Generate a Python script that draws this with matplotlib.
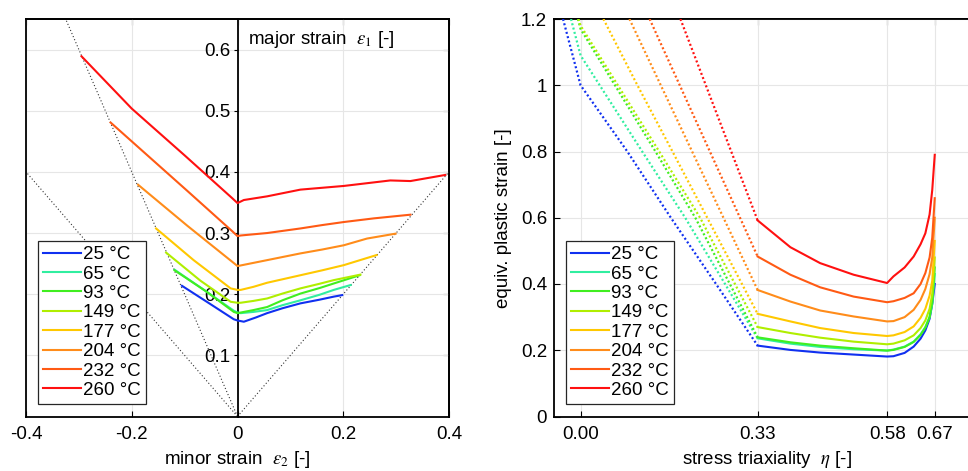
"""Forming limit curves and fracture strain vs. triaxiality for several temperatures."""

import numpy as np
import matplotlib
matplotlib.use("Agg")
import matplotlib.pyplot as plt

plt.rcParams["font.family"] = ["Liberation Sans", "DejaVu Sans"]
plt.rcParams["mathtext.fontset"] = "stix"
plt.rcParams["axes.unicode_minus"] = False

TEMPS = ["25 °C", "65 °C", "93 °C", "149 °C", "177 °C", "204 °C", "232 °C", "260 °C"]
COLORS = ["#1030f0", "#30eea0", "#40ee20", "#b0ee00", "#ffc800", "#ff8c1a", "#ff5a14", "#ff1010"]

# left panel: minor strain (eps2) / major strain (eps1) per temperature
FLC_E2 = [
    [-0.105, -0.057, -0.007, 0.0, 0.012, 0.035, 0.056, 0.085, 0.119, 0.155, 0.182, 0.198],
    [-0.119, -0.06, -0.007, 0.0, 0.006, 0.03, 0.056, 0.085, 0.119, 0.155, 0.182, 0.214],
    [-0.119, -0.06, -0.007, 0.0, 0.006, 0.03, 0.056, 0.085, 0.119, 0.155, 0.182, 0.231],
    [-0.135, -0.07, -0.013, 0.0, 0.006, 0.03, 0.056, 0.085, 0.119, 0.155, 0.182, 0.2325],
    [-0.154, -0.083, -0.013, 0.0, 0.006, 0.03, 0.056, 0.119, 0.16, 0.201, 0.263],
    [-0.188, -0.095, -0.01, 0.0, 0.006, 0.056, 0.119, 0.16, 0.201, 0.245, 0.299],
    [-0.240, -0.095, -0.01, 0.0, 0.006, 0.056, 0.119, 0.16, 0.201, 0.258, 0.327],
    [-0.295, -0.2, -0.1, -0.01, 0.0, 0.012, 0.056, 0.119, 0.201, 0.289, 0.327, 0.393],
]
FLC_E1 = [
    [0.2137, 0.187, 0.159, 0.157, 0.155, 0.162, 0.169, 0.177, 0.185, 0.191, 0.196, 0.1985],
    [0.240, 0.205, 0.173, 0.170, 0.169, 0.171, 0.174, 0.182, 0.190, 0.199, 0.207, 0.215],
    [0.239, 0.205, 0.171, 0.169, 0.170, 0.174, 0.179, 0.190, 0.201, 0.210, 0.2175, 0.231],
    [0.268, 0.222, 0.1876, 0.186, 0.186, 0.189, 0.193, 0.201, 0.2095, 0.217, 0.223, 0.232],
    [0.3075, 0.2557, 0.2095, 0.207, 0.207, 0.212, 0.2187, 0.231, 0.239, 0.2475, 0.264],
    [0.379, 0.312, 0.253, 0.246, 0.247, 0.2557, 0.2667, 0.273, 0.280, 0.291, 0.299],
    [0.4807, 0.369, 0.303, 0.295, 0.296, 0.300, 0.3075, 0.313, 0.318, 0.324, 0.330],
    [0.589, 0.5035, 0.427, 0.357, 0.349, 0.354, 0.360, 0.371, 0.377, 0.386, 0.385, 0.395],
]

# strain-path reference lines through the origin
REF_E2 = [[0.0, -0.4], [0.0, -0.4], [0.0, 0.4]]
REF_E1 = [[0.0, 0.8], [0.0, 0.4], [0.0, 0.4]]

# right panel: extrapolated part (dotted) and measured part (solid)
DOT_ETA = [
    [-0.033, 0.0, 0.088, 0.17, 0.255, 0.3333],
    [-0.018, 0.0, 0.116, 0.197, 0.272, 0.3333],
    [-0.005, 0.0, 0.141, 0.216, 0.3333],
    [-0.004, 0.0, 0.148, 0.225, 0.3333],
    [0.043, 0.107, 0.173, 0.3333],
    [0.092, 0.3333],
    [0.130, 0.3333],
    [0.188, 0.3333],
]
DOT_EPS = [
    [1.2, 1.0, 0.8, 0.6, 0.4, 0.214],
    [1.2, 1.09, 0.8, 0.6, 0.4, 0.236],
    [1.2, 1.17, 0.8, 0.6, 0.239],
    [1.2, 1.18, 0.8, 0.6, 0.27],
    [1.2, 1.0, 0.8, 0.31],
    [1.2, 0.382],
    [1.2, 0.483],
    [1.2, 0.592],
]
ETA_SOLID = [0.3333, 0.395, 0.451, 0.514, 0.577, 0.589, 0.61, 0.627, 0.64, 0.649, 0.657, 0.662, 0.6667]
EPS_SOLID = [
    [0.214, 0.201, 0.193, 0.187, 0.181, 0.182, 0.192, 0.211, 0.235, 0.26, 0.295, 0.34, 0.40],
    [0.236, 0.220, 0.210, 0.203, 0.199, 0.202, 0.211, 0.226, 0.248, 0.27, 0.30, 0.34, 0.43],
    [0.239, 0.224, 0.214, 0.206, 0.199, 0.201, 0.21, 0.225, 0.246, 0.268, 0.30, 0.345, 0.45],
    [0.27, 0.252, 0.238, 0.226, 0.218, 0.22, 0.23, 0.245, 0.267, 0.29, 0.325, 0.37, 0.48],
    [0.31, 0.287, 0.267, 0.252, 0.243, 0.245, 0.255, 0.272, 0.298, 0.325, 0.365, 0.41, 0.53],
    [0.382, 0.347, 0.32, 0.302, 0.287, 0.288, 0.30, 0.322, 0.352, 0.385, 0.43, 0.48, 0.60],
    [0.483, 0.428, 0.390, 0.362, 0.345, 0.348, 0.358, 0.372, 0.40, 0.433, 0.48, 0.54, 0.659],
    [0.592, 0.511, 0.463, 0.428, 0.403, 0.423, 0.450, 0.483, 0.52, 0.553, 0.61, 0.684, 0.79],
]

FS = 13.5
GRID = "#e6e6e6"


def style_box(ax):
    for spine in ax.spines.values():
        spine.set_linewidth(1.3)
    ax.grid(True, color=GRID, linewidth=0.8)
    ax.set_axisbelow(True)


def add_legend(ax, handles):
    leg = ax.legend(
        handles, TEMPS, loc="lower left", bbox_to_anchor=(0.028, 0.031),
        fontsize=FS, frameon=True, fancybox=False, framealpha=1,
        edgecolor="#262626", borderpad=0.28, labelspacing=0.12,
        handlelength=2.0, handletextpad=0.15, borderaxespad=0,
    )
    leg.get_frame().set_linewidth(0.9)


fig = plt.figure(figsize=(9.68, 4.71), dpi=100)
ax1 = fig.add_axes([26 / 968, 1 - 416.5 / 471, 423 / 968, 397.5 / 471])
ax2 = fig.add_axes([554 / 968, 1 - 416.5 / 471, 425 / 968, 397.5 / 471])

# ---- left: forming limit curves
style_box(ax1)
ax1.set_xlim(-0.4, 0.4)
ax1.set_ylim(0, 0.65)
for xs, ys in zip(REF_E2, REF_E1):
    ax1.plot(xs, ys, ls=(0, (1, 2)), color="#333333", lw=0.8)
handles = []
for xs, ys, c in zip(FLC_E2, FLC_E1, COLORS):
    (h,) = ax1.plot(xs, ys, color=c, lw=1.5, zorder=3)
    handles.append(h)

ax1.spines["left"].set_position(("data", 0))
ax1.plot([0, 0], [0, 1], transform=ax1.transAxes, color="k", lw=1.3, clip_on=False)
ax1.set_xticks([-0.4, -0.2, 0, 0.2, 0.4], labels=["-0.4", "-0.2", "0", "0.2", "0.4"])
ax1.set_yticks([0.1, 0.2, 0.3, 0.4, 0.5, 0.6], labels=["0.1", "0.2", "0.3", "0.4", "0.5", "0.6"])
ax1.tick_params(axis="x", direction="in", length=4, labelsize=FS, pad=7)
ax1.tick_params(axis="y", direction="out", length=3, labelsize=FS, pad=2)
top1 = ax1.secondary_xaxis("top")
top1.set_xticks([-0.4, -0.2, 0, 0.2, 0.4], labels=[])
top1.tick_params(direction="in", length=4)
right1 = ax1.secondary_yaxis("right")
right1.set_yticks([0.1, 0.2, 0.3, 0.4, 0.5, 0.6], labels=[])
right1.tick_params(direction="in", length=4)
for sec in (top1, right1):
    for spine in sec.spines.values():
        spine.set_linewidth(1.3)
ax1.text(0.019, 0.617, r"major strain  $\epsilon_1$ [-]", fontsize=FS, va="center", ha="left")
ax1.set_xlabel(r"minor strain  $\epsilon_2$ [-]", fontsize=FS, labelpad=4)
add_legend(ax1, handles)

# ---- right: equivalent plastic strain vs. stress triaxiality
style_box(ax2)
ax2.spines["right"].set_visible(False)
ax2.set_xlim(-0.05, 0.75)
ax2.set_ylim(0, 1.2)
handles = []
for xs, ys, c in zip(DOT_ETA, DOT_EPS, COLORS):
    ax2.plot(xs, ys, color=c, lw=1.6, ls=(0, (0.9, 1.1)), zorder=3)
for ys, c in zip(EPS_SOLID, COLORS):
    (h,) = ax2.plot(ETA_SOLID, ys, color=c, lw=1.5, zorder=3)
    handles.append(h)
ax2.set_xticks([0, 1 / 3, 1 / np.sqrt(3), 2 / 3], labels=["0.00", "0.33", "0.58", "0.67"])
ax2.set_yticks([0, 0.2, 0.4, 0.6, 0.8, 1.0, 1.2], labels=["0", "0.2", "0.4", "0.6", "0.8", "1", "1.2"])
ax2.tick_params(direction="in", length=4, labelsize=FS)
ax2.tick_params(axis="x", pad=7)
ax2.tick_params(axis="y", pad=5)
top2 = ax2.secondary_xaxis("top")
top2.set_xticks([0, 1 / 3, 1 / np.sqrt(3), 2 / 3], labels=[])
top2.tick_params(direction="in", length=4)
for spine in top2.spines.values():
    spine.set_linewidth(1.3)
ax2.set_xlabel(r"stress triaxiality  $\eta$ [-]", fontsize=FS, labelpad=4)
ax2.set_ylabel("equiv. plastic strain [-]", fontsize=FS, labelpad=6)
add_legend(ax2, handles)

fig.savefig("out.png", dpi=100)
